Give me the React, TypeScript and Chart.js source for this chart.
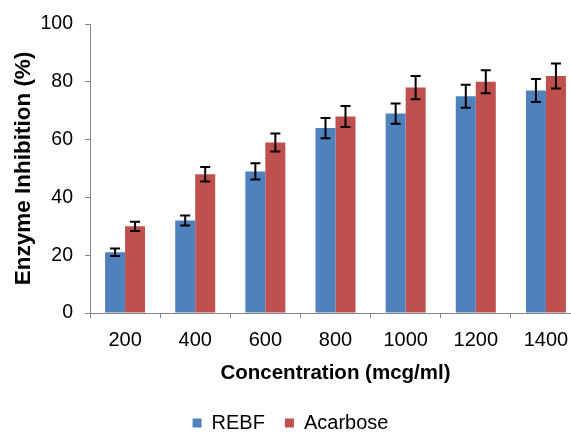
import React, { useEffect, useRef } from "react";
import { Chart, registerables } from "chart.js";

Chart.register(...registerables);

const categories = ["200", "400", "600", "800", "1000", "1200", "1400"];
const rebfValues = [21, 32, 49, 64, 69, 75, 77];
const rebfErrors = [1.3, 1.7, 2.8, 3.5, 3.5, 4, 4];
const acarboseValues = [30, 48, 59, 68, 78, 80, 82];
const acarboseErrors = [1.6, 2.5, 3.1, 3.6, 4, 4, 4.3];
const yTicks = [0, 20, 40, 60, 80, 100];

const FONT = "'Liberation Sans', Arial, sans-serif";
const AXIS_GRAY = "#868686";

const errorBarPlugin = {
  id: "errorBars",
  afterDatasetsDraw(chart: any) {
    const ctx = chart.ctx;
    const yScale = chart.scales.y;
    const errs = [rebfErrors, acarboseErrors];
    ctx.save();
    ctx.strokeStyle = "#000";
    ctx.lineWidth = 2;
    chart.data.datasets.forEach((ds: any, di: number) => {
      const meta = chart.getDatasetMeta(di);
      meta.data.forEach((bar: any, i: number) => {
        const v = ds.data[i];
        const e = errs[di][i];
        const x = bar.x;
        const yTop = yScale.getPixelForValue(v + e);
        const yBot = yScale.getPixelForValue(v - e);
        const cap = 5;
        ctx.beginPath();
        ctx.moveTo(x, yTop);
        ctx.lineTo(x, yBot);
        ctx.moveTo(x - cap, yTop);
        ctx.lineTo(x + cap, yTop);
        ctx.moveTo(x - cap, yBot);
        ctx.lineTo(x + cap, yBot);
        ctx.stroke();
      });
    });
    ctx.restore();
  },
};

const legendHeightPlugin = {
  id: "legendHeight",
  beforeUpdate(chart: any) {
    const lg = chart.legend;
    if (lg && !lg.__patched) {
      const orig = lg.fit;
      lg.fit = function () {
        orig.call(this);
        this.height = 44;
      };
      lg.__patched = true;
    }
  },
};

export default function App() {
  const ref = useRef<HTMLCanvasElement | null>(null);

  useEffect(() => {
    if (!ref.current) return;
    const chart = new Chart(ref.current, {
      type: "bar",
      data: {
        labels: categories,
        datasets: [
          {
            label: "REBF",
            data: rebfValues,
            backgroundColor: "#4F81BD",
            borderWidth: 0,
          },
          {
            label: "Acarbose",
            data: acarboseValues,
            backgroundColor: "#C0504D",
            borderWidth: 0,
          },
        ],
      },
      options: {
        responsive: false,
        animation: false,
        devicePixelRatio: 1,
        datasets: {
          bar: {
            categoryPercentage: 0.57,
            barPercentage: 1.0,
          },
        },
        layout: {
          padding: { top: 24, left: 0, right: 0, bottom: 0 },
        },
        plugins: {
          tooltip: { enabled: false },
          legend: {
            position: "bottom",
            labels: {
              font: { family: FONT, size: 20 },
              color: "#000",
              boxWidth: 9,
              boxHeight: 9,
              padding: 20,
            },
          },
        },
        scales: {
          x: {
            grid: {
              display: true,
              drawOnChartArea: false,
              drawTicks: true,
              tickLength: 5,
              color: AXIS_GRAY,
            },
            border: { display: true, color: AXIS_GRAY, width: 1 },
            ticks: {
              font: { family: FONT, size: 20 },
              color: "#000",
              padding: 10,
              maxRotation: 0,
            },
            title: {
              display: true,
              text: "Concentration (mcg/ml)",
              font: { family: FONT, size: 20.5, weight: "bold" },
              color: "#000",
              padding: { top: 4, bottom: 7 },
            },
            afterFit(scale: any) {
              scale.height = 80;
            },
          },
          y: {
            min: 0,
            max: 100,
            afterBuildTicks(scale: any) {
              scale.ticks = yTicks.map((v) => ({ value: v }));
            },
            grid: {
              display: true,
              drawOnChartArea: false,
              drawTicks: true,
              tickLength: 5,
              color: AXIS_GRAY,
            },
            border: { display: true, color: AXIS_GRAY, width: 1 },
            ticks: {
              font: { family: FONT, size: 19.5 },
              color: "#000",
              padding: 12,
            },
            title: {
              display: true,
              text: "Enzyme Inhibition (%)",
              font: { family: FONT, size: 22.5, weight: "bold" },
              color: "#000",
              padding: { top: 10, bottom: 0 },
            },
            afterFit(scale: any) {
              scale.width = 90;
            },
          },
        },
      },
      plugins: [errorBarPlugin, legendHeightPlugin],
    });
    return () => chart.destroy();
  }, []);

  return (
    <div
      style={{
        position: "fixed",
        left: 0,
        top: 0,
        width: 571,
        height: 437,
        overflow: "hidden",
        background: "#fff",
      }}
    >
      <canvas ref={ref} width={581} height={437} style={{ display: "block" }} />
    </div>
  );
}
